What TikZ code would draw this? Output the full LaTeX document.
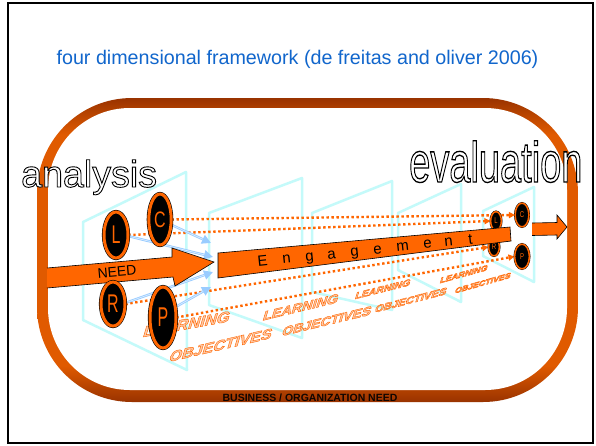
\documentclass[tikz,border=0pt]{standalone}
\usepackage{fontspec}
\setmainfont{Liberation Sans}
\usetikzlibrary{arrows.meta,shapes.geometric}
\pgfdeclarelayer{bg}
\pgfsetlayers{bg,main}
\definecolor{orng}{HTML}{FF6600}
\definecolor{brwn}{HTML}{993300}
\definecolor{ringor}{HTML}{E05A00}
\definecolor{cyanl}{HTML}{C4FAFA}
\definecolor{bluec}{HTML}{99CCFF}
\definecolor{bluel}{HTML}{DDEEFF}
\definecolor{titleblue}{HTML}{1166CC}
\definecolor{lofill}{HTML}{FFC9A6}
\pgfdeclareverticalshading{ringshade}{100bp}{color(0bp)=(brwn); color(25bp)=(brwn); color(31bp)=(ringor); color(69bp)=(ringor); color(75bp)=(brwn); color(100bp)=(brwn)}
% outlined text: #1 fill colour, #2 stroke rgb, #3 stroke width, #4 text
\newcommand{\strokedtext}[4]{{\color{#1}\special{pdf:literal direct #2 RG #3 w 2 Tr}#4\special{pdf:literal direct 0 Tr 0.4 w}}}
\newcommand{\lotext}[2]{{\fontsize{#1}{#1}\selectfont\bfseries\strokedtext{lofill}{1 0.4 0}{0.45}{#2}}}
\newcommand{\outtext}[1]{\strokedtext{white}{0 0 0}{0.9}{#1}}
\begin{document}
\begin{tikzpicture}[x=1pt,y=-1pt,
  panel/.style={draw=cyanl,line width=2.5pt,line join=round},
  bigring/.style 2 args={ellipse,inner sep=0pt,minimum width=#1pt,minimum height=#2pt,fill=black,draw=black,line width=0.6pt,double=orng,double distance=3pt,text=orng,font=\fontsize{16}{16}\selectfont},
  smallring/.style 2 args={ellipse,inner sep=0pt,minimum width=#1pt,minimum height=#2pt,fill=black,draw=black,line width=0.4pt,double=orng,double distance=1.5pt,text=orng,font=\fontsize{6}{6}\selectfont},
  dotline/.style={draw=orng,line width=2.4pt,dash pattern=on 2.4pt off 2.6pt,-{Triangle[length=6pt,width=6pt]}},
  blueconn/.style={draw=bluec,line width=2.4pt,-{Triangle[length=9pt,width=9pt]}},
  bluemid/.style={draw=bluel,line width=0.7pt,shorten >=9pt},
  arrowshape/.style={fill=orng,draw=black,line width=0.6pt,line join=miter},
  floortext/.style={inner sep=0pt,xslant=0.3}
]
\useasboundingbox (0,0) rectangle (596,445);

% big and small rings
\node[bigring={24}{46}] (bL) at (116,235) {\scalebox{1}[1.6]{L}};
\node[bigring={22.4}{51}] (bC) at (160,219.5) {\scalebox{1}[1.4]{C}};
\node[bigring={24}{44}] (bR) at (113,304) {\scalebox{1}[1.6]{R}};
\node[bigring={26}{61}] (bP) at (163,317.5) {\scalebox{1}[1.7]{P}};
\node[smallring={10.7}{18.7}] (sL) at (496,221) {\scalebox{1}[1.4]{L}};
\node[smallring={13.7}{23.7}] (sC) at (522,215) {\scalebox{1}[1.4]{C}};
\node[smallring={10.7}{17.7}] (sR) at (494,247) {\scalebox{1}[1.4]{R}};
\node[smallring={14.7}{24.7}] (sP) at (522,256.5) {\scalebox{1}[1.4]{P}};

\coordinate (hC) at (211,243);
\coordinate (hL) at (213,257);
\coordinate (hR) at (213,272);
\coordinate (hP) at (211,287);

\begin{pgfonlayer}{bg}
\fill[white] (0,0) rectangle (596,445);
% ring
\shade[shading=ringshade,rounded corners=95pt] (37,98) rectangle (578,402);
\fill[white,rounded corners=82pt] (48,108) rectangle (567,390);
% panels
\draw[panel] (83,222) -- (186,172) -- (187,370) -- (83,320) -- cycle;
\draw[panel] (209,213) -- (302,178) -- (302,338) -- (209,305) -- cycle;
\draw[panel] (312,213) -- (392,181) -- (392,310) -- (312,292) -- cycle;
\draw[panel] (398,213) -- (461,184) -- (461,302) -- (398,270) -- cycle;
\draw[panel] (483,211) -- (534,187) -- (534,282) -- (483,256) -- cycle;
% learning objectives on the floor
\node[floortext,yslant=0.19] (lo1a) at (187,324) {\lotext{15.6}{LEARNING}};
\node[floortext,yslant=0.25] (lo1b) at (221,345) {\lotext{15}{OBJECTIVES}};
\node[floortext,yslant=0.26] (lo2a) at (301,307) {\lotext{13.3}{LEARNING}};
\node[floortext,yslant=0.26] (lo2b) at (327,321) {\lotext{13}{OBJECTIVES}};
\node[floortext,yslant=0.27] (lo3a) at (383,289) {\lotext{9.7}{LEARNING}};
\node[floortext,yslant=0.28] (lo3b) at (411,300) {\lotext{10.4}{OBJECTIVES}};
\node[floortext,yslant=0.3] (lo4a) at (464,274) {\lotext{8.3}{LEARNING}};
\node[floortext,yslant=0.31] (lo4b) at (483,283) {\lotext{8}{OBJECTIVES}};
% dotted connectors
\draw[dotline] (bC.east) -- (sC.west);
\draw[dotline] (bL.east) -- (sL.west);
\draw[dotline] (bR.east) -- (sR.west);
\draw[dotline] (bP.east) -- (sP.west);
% blue connectors
\draw[blueconn] (bC.-25) -- (hC);
\draw[bluemid] (bC.-25) -- (hC);
\draw[blueconn] (bL.-5) -- (hL);
\draw[bluemid] (bL.-5) -- (hL);
\draw[blueconn] (bR.5) -- (hR);
\draw[bluemid] (bR.5) -- (hR);
\draw[blueconn] (bP.40) -- (hP);
\draw[bluemid] (bP.40) -- (hP);
% NEED arrow
\filldraw[arrowshape] (47,268) -- (172,257) -- (172,248) -- (214,262) -- (175,286) -- (173,277) -- (47,288);
\end{pgfonlayer}

% frame and title
\draw[line width=1.6pt] (8,3) rectangle (593,443);
\node[font=\fontsize{19.7}{24}\selectfont,text=titleblue,anchor=base,inner sep=0pt] (title) at (297.5,64) {four dimensional framework (de freitas and oliver 2006)};
\node[font=\fontsize{10.5}{12}\selectfont\bfseries,text=black!90!brwn,anchor=base,inner sep=0pt] (business) at (310,401) {BUSINESS / ORGANIZATION NEED};

\node[font=\fontsize{14}{14}\selectfont,rotate=5,inner sep=0pt] (need) at (117,272) {NEED};

% engagement bar
\filldraw[arrowshape] (218,253) -- (510,227) -- (511,241) -- (218,278) -- cycle;
\foreach \x/\l [count=\i] in {263/E,287/n,310/g,332/a,355/g,378/e,403/m,428/e,449/n,471/t}
  \node[font=\fontsize{15}{15}\selectfont,rotate=6,anchor=base,inner sep=0pt] (eng\i) at (\x,{266-0.106*(\x-263)}) {\l};

% exit arrow
\filldraw[arrowshape] (532,223) -- (557,222.5) -- (557,215) -- (567,227) -- (557,239) -- (557,235) -- (532,235.5);

% outlined headings
\node[font=\fontsize{37.6}{40}\selectfont,anchor=base west,inner sep=0pt] (analysis) at (21,187) {\outtext{analysis}};
\node[font=\fontsize{38}{40}\selectfont,anchor=base west,inner sep=0pt,yscale=1.5] (evaluation) at (409,182) {\outtext{evaluation}};
\end{tikzpicture}
\end{document}
